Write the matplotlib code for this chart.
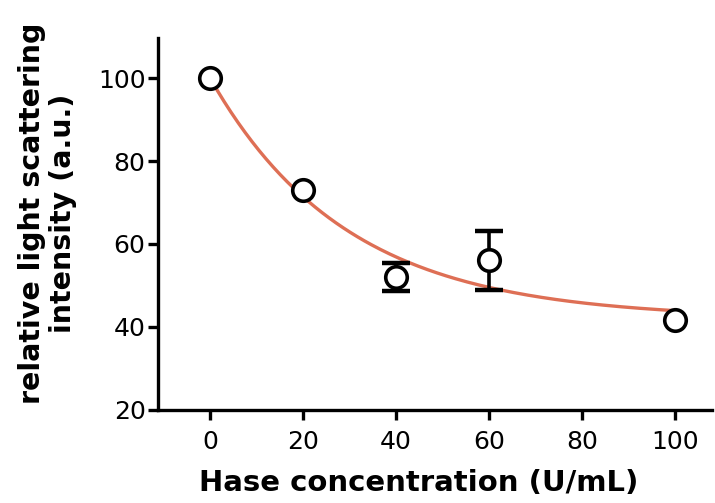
import matplotlib.pyplot as plt
import numpy as np

# data
conc = [0, 20, 40, 60, 100]
intensity = [100, 73, 52.1, 56.1, 41.7]
err = [0, 0, 3.4, 7.1, 0]

# exponential decay fit: y = plateau + span*exp(-k*x)
plateau = 42
span = 58
k = 0.034

xticks = [0, 20, 40, 60, 80, 100]
yticks = [20, 40, 60, 80, 100]

fig = plt.figure(figsize=(7.15, 5.03), dpi=100)
ax = fig.add_axes([0.221, 0.185, 0.775, 0.739])

xf = np.linspace(0, 100, 200)
ax.plot(xf, plateau + span*np.exp(-k*xf), color='#de6f55', lw=2.4, zorder=2)

# error bars only where there is a spread
ex = [c for c, e in zip(conc, err) if e > 0]
ey = [v for v, e in zip(intensity, err) if e > 0]
ee = [e for e in err if e > 0]
ax.errorbar(ex, ey, yerr=ee, fmt='none', ecolor='black',
            elinewidth=2.6, capsize=10, capthick=3.2, zorder=3)
ax.plot(conc, intensity, 'o', ms=15.5, mfc='white', mec='black', mew=2.6, zorder=4)

ax.set_xlim(-11.2, 108)
ax.set_ylim(20, 109.6)
ax.set_xticks(xticks)
ax.set_yticks(yticks)

for s in ['top', 'right']:
    ax.spines[s].set_visible(False)
for s in ['left', 'bottom']:
    ax.spines[s].set_linewidth(2.4)
ax.tick_params(width=2.4, length=7.5, labelsize=18)
ax.tick_params(axis='x', pad=7)
ax.tick_params(axis='y', pad=1.5)

ax.set_xlabel('Hase concentration (U/mL)', fontsize=21, fontweight='bold')
ax.set_ylabel('relative light scattering\nintensity (a.u.)', fontsize=20.5,
              fontweight='bold', linespacing=1.12)
ax.xaxis.set_label_coords(0.471, -0.158)
ax.yaxis.set_label_coords(-0.147, 0.53)

fig.savefig('out.png', dpi=100)
